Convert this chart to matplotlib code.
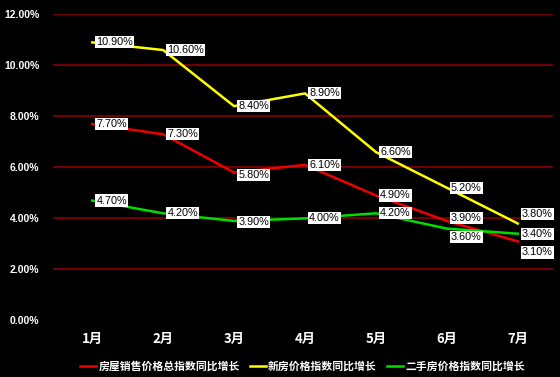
import matplotlib
matplotlib.use('Agg')
import matplotlib.pyplot as plt
from matplotlib.ticker import FuncFormatter

plt.rcParams['font.family'] = ['Noto Sans CJK SC', 'DejaVu Sans']

# Data
months = ['1月', '2月', '3月', '4月', '5月', '6月', '7月']
total_idx = [7.7, 7.3, 5.8, 6.1, 4.9, 3.9, 3.1]
new_idx = [10.9, 10.6, 8.4, 8.9, 6.6, 5.2, 3.8]
second_idx = [4.7, 4.2, 3.9, 4.0, 4.2, 3.6, 3.4]
names = ['房屋销售价格总指数同比增长', '新房价格指数同比增长', '二手房价格指数同比增长']

colors = ['#ee0000', '#ffff00', '#00dd00']
series = [total_idx, new_idx, second_idx]
# vertical label shifts in points, to keep boxes from overlapping
shifts = [
    [0, 0, -2, 0, 0, 2, -8],
    [0, 0, 0, 0, 0, 0, 7],
    [0, 0, -1, 0, 0, -6, 0],
]

fig = plt.figure(figsize=(5.6, 3.77), dpi=100, facecolor='black')
ax = fig.add_axes([0.095, 0.15, 0.893, 0.812])
ax.set_facecolor('black')

x = list(range(len(months)))
for vals, c, name, sh in zip(series, colors, names, shifts):
    ax.plot(x, vals, color=c, lw=1.8, label=name, zorder=3)
    for xi, v, s in zip(x, vals, sh):
        ax.annotate('%.2f%%' % v, (xi, v), xytext=(3, s), textcoords='offset points',
                    ha='left', va='center', fontsize=7.8, color='black',
                    family=['Liberation Sans', 'DejaVu Sans'],
                    bbox=dict(boxstyle='square,pad=0.1', fc='white', ec='none'),
                    zorder=4)

ax.set_xlim(-0.55, 6.5)
ax.set_ylim(0, 12)
ax.set_yticks([0, 2, 4, 6, 8, 10, 12])
ax.yaxis.set_major_formatter(FuncFormatter(lambda v, p: '%.2f%%' % v))
ax.set_xticks(x)
ax.set_xticklabels(months)
for gy in [2, 4, 6, 8, 10, 12]:
    ax.axhline(gy, color='#8b0000', lw=1.2, zorder=1)

for sp in ax.spines.values():
    sp.set_visible(False)
ax.tick_params(length=0, colors='white')
ax.tick_params(axis='y', pad=10)
for lbl in ax.get_yticklabels():
    lbl.set_fontweight('bold')
    lbl.set_fontsize(7.5)
    lbl.set_family(['Liberation Sans', 'DejaVu Sans'])
for lbl in ax.get_xticklabels():
    lbl.set_fontweight('bold')
    lbl.set_fontsize(9.5)
ax.tick_params(axis='x', pad=8)

leg = fig.legend(loc='lower center', ncol=3, bbox_to_anchor=(0.54, -0.012),
                 frameon=False, fontsize=7.8, handlelength=1.5, handletextpad=0.2,
                 columnspacing=0.9)
for t in leg.get_texts():
    t.set_color('white')
    t.set_fontweight('bold')

plt.savefig('out.png', dpi=100, facecolor='black')
